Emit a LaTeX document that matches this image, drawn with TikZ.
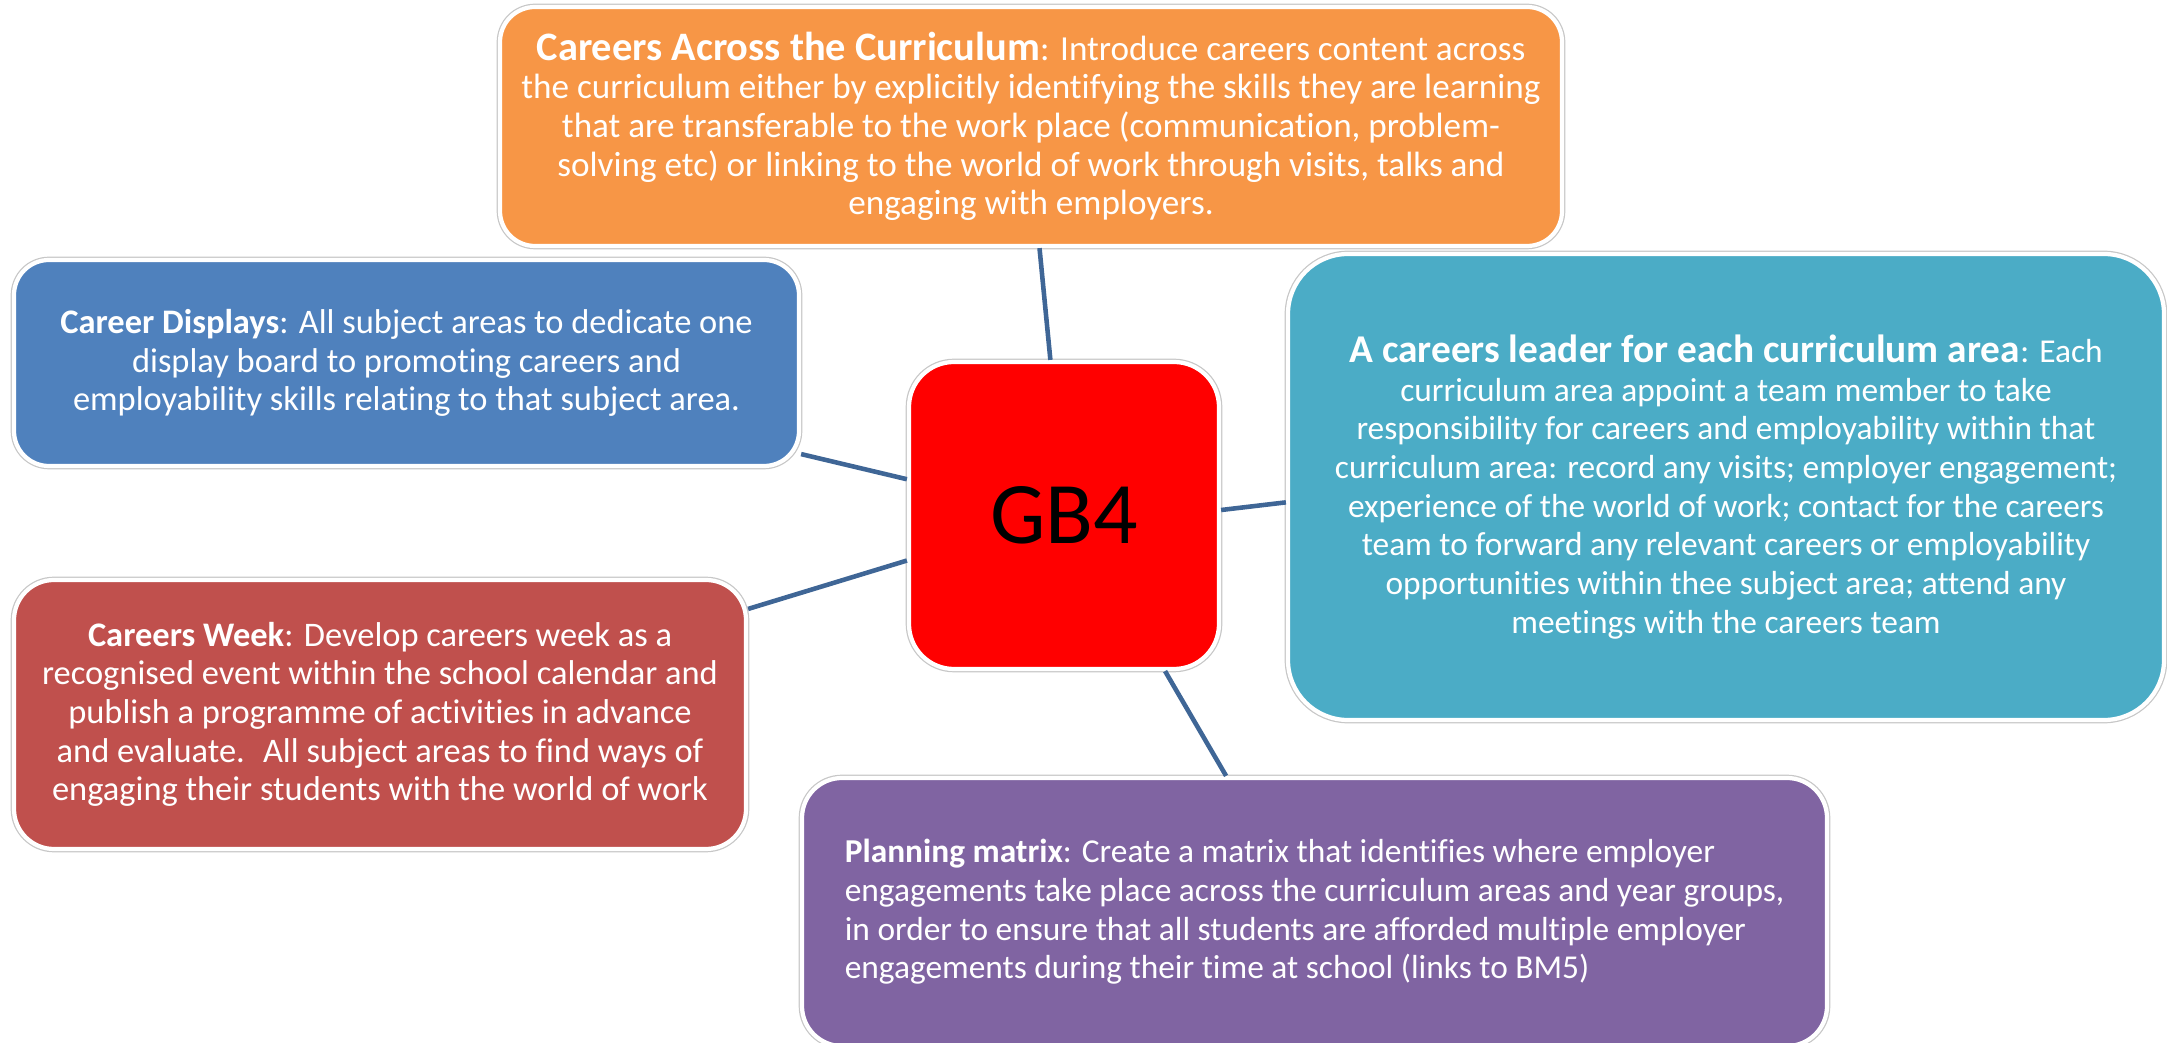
\documentclass[tikz,border=0pt]{standalone}
\usepackage{fontspec}
\setmainfont{Carlito}[Ligatures=NoCommon]
\definecolor{cacorange}{HTML}{F79646}
\definecolor{dispblue}{HTML}{4F81BD}
\definecolor{leadteal}{HTML}{4BACC6}
\definecolor{weekred}{HTML}{C0504D}
\definecolor{matrixpurple}{HTML}{8064A2}
\definecolor{linkblue}{HTML}{3F6696}
\tikzset{
	box/.style={rectangle, draw=white, line width=1.2pt, preaction={draw=black!22, line width=1.9pt}, text=white, inner sep=0pt, font=\fontsize{9.8}{11}\selectfont},
	link/.style={draw=linkblue, line width=1.3pt}
}
\begin{document}
\begin{tikzpicture}
		\useasboundingbox (0,0) rectangle (21.67,-10.43);

		\node[box, fill=red, text=black, rounded corners=0.45cm, minimum width=3.1cm, minimum height=3.07cm, font=\fontsize{25}{30}\selectfont] (gb) at (10.64,-5.155) {GB4};

		\node[box, fill=cacorange, rounded corners=0.35cm, minimum width=10.62cm, minimum height=2.39cm, align=center, font=\fontsize{10}{11}\selectfont] (cac) at (10.31,-1.265) {{\fontsize{11.5}{11}\selectfont\textbf{Careers Across the Curriculum}}: Introduce careers content across\\the curriculum either by explicitly identifying the skills they are learning\\that are transferable to the work place (communication, problem-\\solving etc) or linking to the world of work through visits, talks and\\engaging with employers.};

		\node[box, fill=dispblue, rounded corners=0.35cm, minimum width=7.85cm, minimum height=2.06cm, align=center] (disp) at (4.065,-3.63) {\textbf{Career Displays}: All subject areas to dedicate one\\display board to promoting careers and\\employability skills relating to that subject area.};

		\node[box, fill=leadteal, rounded corners=0.6cm, minimum width=8.76cm, minimum height=4.66cm, align=center, font=\fontsize{9.5}{11}\selectfont] (lead) at (17.26,-4.87) {{\fontsize{11.2}{11}\selectfont\textbf{A careers leader for each curriculum area}}: Each\\curriculum area appoint a team member to take\\responsibility for careers and employability within that\\curriculum area: record any visits; employer engagement;\\experience of the world of work; contact for the careers\\team to forward any relevant careers or employability\\opportunities within thee subject area; attend any\\meetings with the careers team};

		\node[box, fill=weekred, rounded corners=0.4cm, minimum width=7.32cm, minimum height=2.69cm, align=center] (week) at (3.80,-7.145) {\textbf{Careers Week}: Develop careers week as a\\recognised event within the school calendar and\\publish a programme of activities in advance\\and evaluate.~ All subject areas to find ways of\\engaging their students with the world of work};

		\node[box, fill=matrixpurple, rounded corners=0.4cm, minimum width=10.25cm, minimum height=2.68cm, align=left, font=\fontsize{9.5}{11}\selectfont] (matrix) at (13.145,-9.12) {\textbf{Planning matrix}: Create a matrix that identifies where employer\\engagements take place across the curriculum areas and year groups,\\in order to ensure that all students are afforded multiple employer\\engagements during their time at school (links to BM5)};

		\draw[link] (cac.-86) -- (gb.95);
		\draw[link] (disp.-13) -- (gb.167);
		\draw[link] (week.16) -- (gb.196);
		\draw[link] (gb.2) -- (lead.182);
		\draw[link] (gb.-57) -- (matrix.123.5);
	\end{tikzpicture}
\end{document}
